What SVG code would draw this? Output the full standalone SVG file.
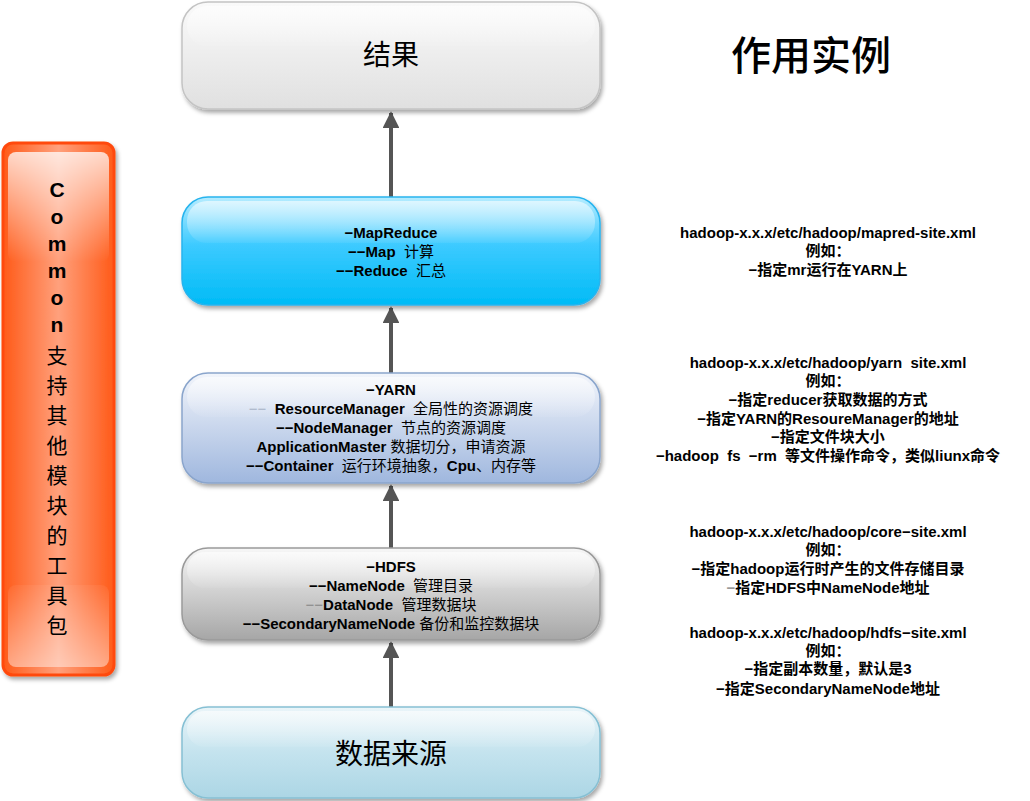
<svg xmlns="http://www.w3.org/2000/svg" width="1030" height="801" viewBox="0 0 1030 801">
<style>
text{white-space:pre}
.t{font-family:"Liberation Sans","Noto Sans CJK SC",sans-serif;font-size:15px;fill:#000;text-anchor:middle}
.b{font-weight:bold}
.r{font-family:"Liberation Sans","Noto Sans CJK SC",sans-serif;font-size:15px;font-weight:bold;fill:#000;text-anchor:middle}
.big{font-family:"Noto Sans CJK SC",sans-serif;font-size:28px;fill:#000;text-anchor:middle}
.title{font-family:"Noto Sans CJK SC",sans-serif;font-size:40px;font-weight:500;fill:#000;text-anchor:middle}
.v{font-family:"Liberation Sans","Noto Sans CJK SC",sans-serif;font-size:21px;fill:#000;text-anchor:middle}
.faint{fill:#a8b4c8}
.faint2{fill:#888}
.conn{stroke:#555;stroke-width:4;fill:none}
</style>
<defs>
<filter id="sh" x="-5%" y="-10%" width="112%" height="130%">
<feDropShadow dx="2" dy="3" stdDeviation="2" flood-color="#000" flood-opacity="0.35"/>
</filter>
<linearGradient id="gGray" x1="0" y1="0" x2="0" y2="1">
<stop offset="0" stop-color="#fafafa"/><stop offset="1" stop-color="#e0e0e0"/>
</linearGradient>
<linearGradient id="gBlue" x1="0" y1="0" x2="0" y2="1">
<stop offset="0" stop-color="#b5ecff"/><stop offset="0.45" stop-color="#3ccaff"/><stop offset="1" stop-color="#00bbf6"/>
</linearGradient>
<linearGradient id="gYarn" x1="0" y1="0" x2="0" y2="1">
<stop offset="0" stop-color="#f2f5fb"/><stop offset="1" stop-color="#9fb7de"/>
</linearGradient>
<linearGradient id="gHdfs" x1="0" y1="0" x2="0" y2="1">
<stop offset="0" stop-color="#f7f7f7"/><stop offset="1" stop-color="#a6a6a6"/>
</linearGradient>
<linearGradient id="gSrc" x1="0" y1="0" x2="0" y2="1">
<stop offset="0" stop-color="#eaf5f9"/><stop offset="0.5" stop-color="#c4e3ee"/><stop offset="1" stop-color="#acd6e5"/>
</linearGradient>
<linearGradient id="gOrange" x1="0" y1="0" x2="1" y2="0">
<stop offset="0" stop-color="#ff5a18"/><stop offset="0.5" stop-color="#ffa07c"/><stop offset="1" stop-color="#ff5a18"/>
</linearGradient>
<linearGradient id="gOrHl" x1="0" y1="0" x2="0" y2="1">
<stop offset="0" stop-color="#ffffff" stop-opacity="0.75"/><stop offset="1" stop-color="#ffffff" stop-opacity="0"/>
</linearGradient>
<linearGradient id="gOrHl2" x1="0" y1="0" x2="0" y2="1">
<stop offset="0" stop-color="#ffffff" stop-opacity="0.05"/><stop offset="1" stop-color="#ffffff" stop-opacity="0.45"/>
</linearGradient>
<linearGradient id="gHl" x1="0" y1="0" x2="0" y2="1">
<stop offset="0" stop-color="#ffffff" stop-opacity="0.6"/><stop offset="1" stop-color="#ffffff" stop-opacity="0.05"/>
</linearGradient>
<marker id="ah" viewBox="0 0 10 10" refX="9" refY="5" markerWidth="4.2" markerHeight="4.2" orient="auto">
<path d="M0,0 L10,5 L0,10 z" fill="#555"/>
</marker>
</defs>

<g id="connectors">
<line class="conn" x1="391" y1="197" x2="391" y2="113" marker-end="url(#ah)"/>
<line class="conn" x1="391" y1="373" x2="391" y2="308" marker-end="url(#ah)"/>
<line class="conn" x1="391" y1="548" x2="391" y2="486" marker-end="url(#ah)"/>
<line class="conn" x1="391" y1="707" x2="391" y2="643" marker-end="url(#ah)"/>
</g>

<g id="common">
<rect x="3" y="143" width="111" height="532" rx="10" fill="url(#gOrange)" stroke="#ff4a0c" stroke-width="3" filter="url(#sh)"/>
<rect x="8" y="152" width="101" height="110" rx="8" fill="url(#gOrHl)"/>
<rect x="8" y="585" width="101" height="82" rx="8" fill="url(#gOrHl2)"/>
<text class="v"><tspan class="b" x="57" y="197">C</tspan><tspan class="b" x="57" y="224">o</tspan><tspan class="b" x="57" y="251">m</tspan><tspan class="b" x="57" y="278">m</tspan><tspan class="b" x="57" y="305">o</tspan><tspan class="b" x="57" y="332">n</tspan><tspan x="57" y="363">支</tspan><tspan x="57" y="393">持</tspan><tspan x="57" y="423">其</tspan><tspan x="57" y="453">他</tspan><tspan x="57" y="483">模</tspan><tspan x="57" y="513">块</tspan><tspan x="57" y="543">的</tspan><tspan x="57" y="573">工</tspan><tspan x="57" y="603">具</tspan><tspan x="57" y="633">包</tspan></text>
</g>

<g id="result">
<rect x="182" y="2" width="418" height="107" rx="26" fill="url(#gGray)" stroke="#c4c4c4" stroke-width="1.5" filter="url(#sh)"/>
<rect x="187" y="6" width="408" height="40" rx="20" fill="url(#gHl)"/>
<text class="big" x="391" y="65">结果</text>
</g>

<g id="title">
<text class="title" x="811" y="70">作用实例</text>
</g>

<g id="mapreduce">
<rect x="182" y="197" width="418" height="108" rx="26" fill="url(#gBlue)" stroke="#28b4ee" stroke-width="1.5" filter="url(#sh)"/>
<rect x="187" y="201" width="408" height="42" rx="20" fill="url(#gHl)"/>
<text class="t" x="391" y="238"><tspan class="b">−MapReduce</tspan></text>
<text class="t" x="391" y="257"><tspan class="b">−−Map</tspan><tspan>  计算</tspan></text>
<text class="t" x="391" y="276"><tspan class="b">−−Reduce</tspan><tspan>  汇总</tspan></text>
</g>

<g id="yarn">
<rect x="182" y="373" width="418" height="110" rx="26" fill="url(#gYarn)" stroke="#8aa5cc" stroke-width="1.5" filter="url(#sh)"/>
<rect x="187" y="377" width="408" height="40" rx="20" fill="url(#gHl)"/>
<text class="t" x="391" y="395"><tspan class="b">−YARN</tspan></text>
<text class="t" x="391" y="414"><tspan class="faint">−−  </tspan><tspan class="b">ResourceManager</tspan><tspan>  全局性的资源调度</tspan></text>
<text class="t" x="391" y="433"><tspan class="b">−−NodeManager</tspan><tspan>  节点的资源调度</tspan></text>
<text class="t" x="391" y="452"><tspan class="b">ApplicationMaster</tspan><tspan> 数据切分，申请资源</tspan></text>
<text class="t" x="391" y="471"><tspan class="b">−−Container</tspan><tspan>  运行环境抽象，</tspan><tspan class="b">Cpu</tspan><tspan>、内存等</tspan></text>
</g>

<g id="hdfs">
<rect x="182" y="548" width="418" height="92" rx="26" fill="url(#gHdfs)" stroke="#9a9a9a" stroke-width="1.5" filter="url(#sh)"/>
<rect x="187" y="552" width="408" height="36" rx="18" fill="url(#gHl)"/>
<text class="t" x="391" y="572"><tspan class="b">−HDFS</tspan></text>
<text class="t" x="391" y="591"><tspan class="b">−−NameNode</tspan><tspan>  管理目录</tspan></text>
<text class="t" x="391" y="610"><tspan class="faint2">−−</tspan><tspan class="b">DataNode</tspan><tspan>  管理数据块</tspan></text>
<text class="t" x="391" y="629"><tspan class="b">−−SecondaryNameNode</tspan><tspan> 备份和监控数据块</tspan></text>
</g>

<g id="source">
<rect x="182" y="707" width="418" height="91" rx="26" fill="url(#gSrc)" stroke="#86c0d4" stroke-width="1.5" filter="url(#sh)"/>
<rect x="187" y="711" width="408" height="36" rx="18" fill="url(#gHl)"/>
<text class="big" x="391" y="764">数据来源</text>
</g>

<g id="notes">
<text class="r" x="828" y="238">hadoop-x.x.x/etc/hadoop/mapred-site.xml</text>
<text class="r" x="828" y="256">例如：</text>
<text class="r" x="828" y="275">−指定mr运行在YARN上</text>

<text class="r" x="828" y="368">hadoop-x.x.x/etc/hadoop/yarn  site.xml</text>
<text class="r" x="828" y="386">例如：</text>
<text class="r" x="828" y="405">−指定reducer获取数据的方式</text>
<text class="r" x="828" y="424">−指定YARN的ResoureManager的地址</text>
<text class="r" x="828" y="442">−指定文件块大小</text>
<text class="r" x="828" y="461">−hadoop  fs  −rm  等文件操作命令，类似liunx命令</text>

<text class="r" x="828" y="537">hadoop-x.x.x/etc/hadoop/core−site.xml</text>
<text class="r" x="828" y="555">例如：</text>
<text class="r" x="828" y="574">−指定hadoop运行时产生的文件存储目录</text>
<text class="r" x="828" y="593"><tspan fill="#999">−</tspan>指定HDFS中NameNode地址</text>

<text class="r" x="828" y="638">hadoop-x.x.x/etc/hadoop/hdfs−site.xml</text>
<text class="r" x="828" y="656">例如：</text>
<text class="r" x="828" y="674">−指定副本数量，默认是3</text>
<text class="r" x="828" y="694">−指定SecondaryNameNode地址</text>
</g>
</svg>
